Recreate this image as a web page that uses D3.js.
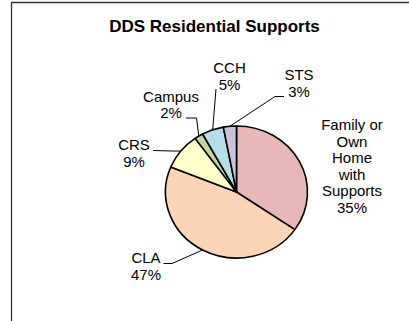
<!DOCTYPE html>
<html>
<head>
<meta charset="utf-8">
<script src="https://cdn.jsdelivr.net/npm/d3@7"></script>
<style>
  html, body { margin: 0; padding: 0; background: #fff; }
  svg { display: block; }
  text { font-family: "Liberation Sans", Arial, sans-serif; fill: #000; }
</style>
</head>
<body>
<svg id="chart" width="409" height="321"></svg>
<script>
// Residential support categories and their share (%)
const chartTitle = "DDS Residential Supports";
const categories = ["Family or Own Home with Supports", "CLA", "CRS", "Campus", "CCH", "STS"];
const percents = [35, 47, 9, 2, 5, 3];
const colors = ["#E6B9B8", "#FBD5B5", "#FFFFCC", "#C3D69B", "#B7DDE8", "#CCC1DA"];

// Label placement: centre x, first baseline y, and leader points before the pie edge
const labelLayout = [
  { x: 352, y: 130, leader: [] },
  { x: 146, y: 263, leader: [[163.5, 263.5], [172, 263.5]] },
  { x: 134, y: 150, leader: [[153, 150.5], [172, 151]] },
  { x: 171, y: 101.7, leader: [[186, 118], [196.5, 118]] },
  { x: 229.5, y: 73.3, leader: [[216, 89]] },
  { x: 299, y: 80, leader: [[284, 96.5], [275, 96.5]] }
];

const W = 409, H = 321;
const cx = 236.5, cy = 192, rx = 71, ry = 66;
const fontSize = 15, lineH = 16.6, wrapWidth = 64;

const svg = d3.select("#chart");

// chart frame
svg.append("path")
  .attr("d", `M11.5,${H} V2.5 H${W}`)
  .attr("fill", "none")
  .attr("stroke", "#333")
  .attr("stroke-width", 1.3);

svg.append("text")
  .attr("x", 214.5)
  .attr("y", 32)
  .attr("text-anchor", "middle")
  .attr("font-size", 17)
  .attr("font-weight", "bold")
  .text(chartTitle);

const data = categories.map((c, i) => ({ name: c, value: percents[i], color: colors[i], layout: labelLayout[i] }));

const pie = d3.pie().sort(null).value(d => d.value).startAngle(0).endAngle(2 * Math.PI);
const arcs = pie(data);
const arc = d3.arc().innerRadius(0).outerRadius(rx);
const edgeArc = d3.arc().innerRadius(rx).outerRadius(rx);

const pieG = svg.append("g")
  .attr("transform", `translate(${cx},${cy}) scale(1,${ry / rx})`);

pieG.selectAll("path")
  .data(arcs)
  .join("path")
  .attr("d", arc)
  .attr("fill", d => d.data.color)
  .attr("stroke", "#000")
  .attr("stroke-width", 1.6)
  .attr("stroke-linejoin", "round")
  .attr("vector-effect", "non-scaling-stroke");

// leader lines from labels to the slice edge
const line = d3.line();
arcs.forEach(d => {
  const pts = d.data.layout.leader;
  if (!pts.length) return;
  const c = edgeArc.centroid(d);
  const edge = [cx + c[0], cy + c[1] * ry / rx];
  svg.append("path")
    .attr("d", line(pts.concat([edge])))
    .attr("fill", "none")
    .attr("stroke", "#000")
    .attr("stroke-width", 1);
});

// word wrap helper using measured text width
const measurer = svg.append("text").attr("font-size", fontSize).attr("visibility", "hidden");
function wrap(str) {
  const words = str.split(" ");
  const lines = [];
  let cur = "";
  words.forEach(w => {
    const trial = cur ? cur + " " + w : w;
    measurer.text(trial);
    if (cur && measurer.node().getComputedTextLength() > wrapWidth) {
      lines.push(cur);
      cur = w;
    } else {
      cur = trial;
    }
  });
  if (cur) lines.push(cur);
  return lines;
}

arcs.forEach(d => {
  const L = d.data.layout;
  const lines = wrap(d.data.name).concat([d.data.value + "%"]);
  const t = svg.append("text")
    .attr("font-size", fontSize)
    .attr("text-anchor", "middle");
  lines.forEach((ln, i) => {
    t.append("tspan")
      .attr("x", L.x)
      .attr("y", L.y + i * lineH)
      .text(ln);
  });
});
measurer.remove();
</script>
</body>
</html>
